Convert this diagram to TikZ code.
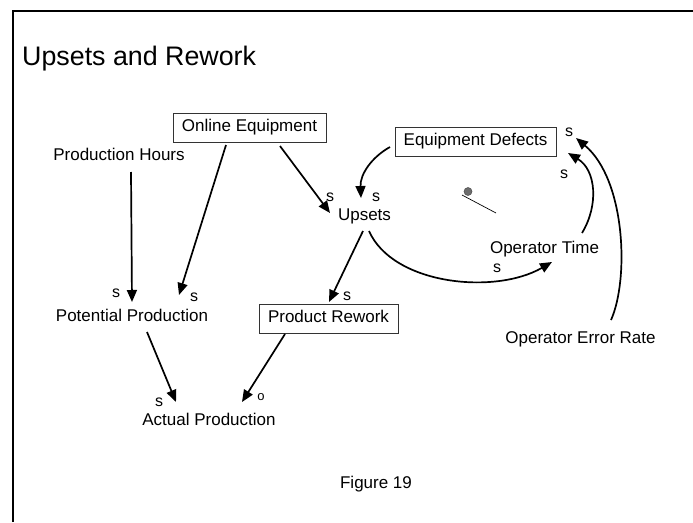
\documentclass[tikz,border=0pt]{standalone}
\usepackage{fontspec}
\setmainfont{Liberation Sans}
\usetikzlibrary{arrows.meta,calc}

\begin{document}
\begin{tikzpicture}[x=1pt,y=-1pt,
  every node/.style={font=\fontsize{17}{20}\selectfont},
  lbl/.style={inner sep=0pt, text height=.716em, text depth=0pt},
  box/.style={lbl, draw=black!80, line width=0.8pt, minimum height=29pt},
  pol/.style={inner sep=0pt, font=\fontsize{16}{17}\selectfont},
  link/.style={line width=1.7pt, -{Triangle[length=12pt,width=10pt]}},
]
\useasboundingbox (0,0) rectangle (693,522);

% frame
\draw[line width=2pt] (13,522) -- (13,11) -- (693,11);

% title and caption
\node[anchor=base west, inner sep=0pt, font=\fontsize{26.8}{30}\selectfont] (title) at (22,65) {Upsets and Rework};
\node[lbl] (fig) at (376,485) {Figure 19};

% variables
\node[lbl] (ph) at (119,157) {Production Hours};
\node[box, minimum width=153pt] (oe) at (249.5,128) {Online Equipment};
\node[lbl] (pp) at (132,318) {Potential Production};
\node[lbl] (ap) at (209,421.5) {Actual Production};
\node[box, minimum width=139pt] (pr) at (328.5,318.5) {Product Rework};
\node[lbl] (up) at (364.5,216.5) {Upsets};
\node[box, minimum width=161pt] (ed) at (475.5,141.5) {Equipment Defects};
\node[lbl] (ot) at (544.5,250) {Operator Time};
\node[lbl] (oer) at (580.5,339.5) {Operator Error Rate};

% straight links
\draw[link] ($(ph)+(12,15)$) -- ($(pp)+(0,-16)$);
\draw[link] ($(oe)+(-23.5,17)$) -- ($(pp)+(47,-23)$);
\draw[link] ($(oe)+(30.5,18)$) -- ($(up)+(-34.5,-3.5)$);
\draw[link] ($(up)+(-1.5,14.5)$) -- ($(pr)+(0.5,-16.5)$);
\draw[link] ($(pr)+(-43.5,15.5)$) -- ($(ap)+(33,-19.5)$);
\draw[link] ($(pp)+(15,14)$) -- ($(ap)+(-33,-19.5)$);

% curved links
\draw[link] ($(ed)+(-85.5,5.5)$) .. controls (372,157) and (360,174) .. ($(up)+(-3.5,-18.5)$);
\draw[link] ($(up)+(4.5,14.5)$) .. controls (393,285) and (495,295) .. ($(ot)+(7.5,12)$);
\draw[link] ($(ot)+(37.5,-17)$) .. controls (599,205) and (596,170) .. ($(ed)+(92.5,11.5)$);
\draw[link] ($(oer)+(30.5,-19.5)$) .. controls (629,280) and (626,180) .. ($(ed)+(100.5,-3.5)$);

% polarity marks
\node[pol] (s1) at (116,293) {s};
\node[pol] (s2) at (194,297) {s};
\node[pol] (s3) at (330,197) {s};
\node[pol] (s4) at (376,197) {s};
\node[pol] (s5) at (347,296) {s};
\node[pol] (s6) at (569,132) {s};
\node[pol] (s7) at (564,174) {s};
\node[pol] (s8) at (497,268) {s};
\node[pol] (s9) at (159,402) {s};
\node[pol, font=\fontsize{13}{14}\selectfont] (o1) at (261,397) {o};

% stray handle mark
\draw[line width=0.7pt] (462,195) -- (496,213);
\fill[gray!85!black, draw=black!70, line width=0.5pt] (468,191.5) circle (4pt);
\end{tikzpicture}
\end{document}
